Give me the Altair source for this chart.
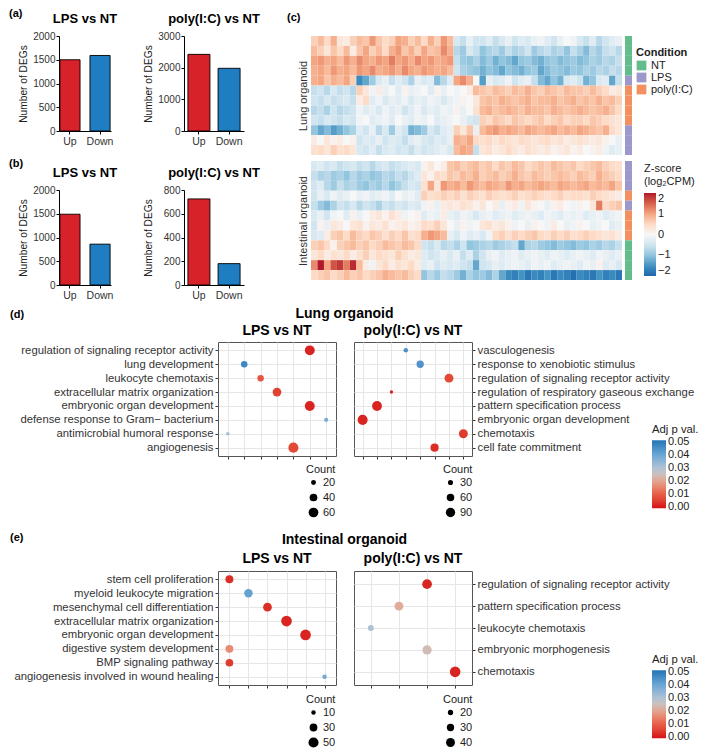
import altair as alt
import pandas as pd

FONT = "Liberation Sans"
TXT = "#333333"

# ---------------- (a)/(b) DEG counts ----------------
deg_dir = ["Up", "Down"]
a_lps_counts = [1500, 1590]
a_poly_counts = [2420, 1980]
b_lps_counts = [1490, 860]
b_poly_counts = [725, 180]
up_color = "#d7222a"
down_color = "#1f7dc1"

# ---------------- (c) heatmap (z-scores, 48 gene blocks per sample row) ----------------
lung_conditions = ["NT", "NT", "NT", "NT", "LPS", "poly(I:C)", "poly(I:C)", "poly(I:C)",
                   "poly(I:C)", "LPS", "LPS", "LPS"]
int_conditions = ["LPS", "LPS", "LPS", "poly(I:C)", "LPS", "poly(I:C)", "poly(I:C)",
                  "poly(I:C)", "NT", "NT", "NT", "NT"]

lung_z = [
    [0.6, 0.8, 0.5, 0.9, 0.3, 0.2, 0.6] + [0.8, 0.7, 1.1, 0.7, 0.5, 0.6, 1.0, 0.9, 0.6, 0.8, 0.5, 0.9, 0.6, 1.1, 0.8]
    + [-0.4, -0.6, -0.2, -0.5] + [-0.5, -0.3, -0.6, -0.4, -0.2, -0.5, -0.3, -0.4, -0.2, -0.1, -0.3, -0.5, -0.2, 0.0, -0.1, -0.4, -0.6, -0.3, -0.7, -0.5, -0.3, -0.2],
    [0.8, 0.6, 0.3, 0.7, 0.5, 0.8, 0.2] + [0.7, 1.0, 0.6, 0.8, 0.5, 0.9, 1.1, 0.7, 0.9, 0.6, 1.0, 0.7, 0.8, 1.2, 0.9]
    + [-0.7, -0.9, -0.4, -0.6] + [-1.0, -0.8, -0.7, -0.9, -0.6, -0.8, -0.7, -0.5, -0.9, -0.7, -0.6, -0.8, -0.7, -1.0, -0.6, -0.8, -1.1, -0.7, -0.9, -0.6, -0.5, -0.7],
    [1.0, 1.1, 0.9, 1.0, 0.8, 1.1, 0.9] + [1.2, 1.0, 0.9, 1.1, 1.0, 1.3, 1.0, 1.1, 0.9, 1.2, 1.0, 1.1, 0.9, 1.0, 1.1]
    + [-0.6, -0.9, -1.0, -0.8] + [-1.1, -0.9, -1.2, -1.0, -1.1, -1.3, -1.0, -0.9, -1.1, -1.2, -1.0, -0.9, -1.1, -1.0, -0.9, -1.1, -1.0, -0.8, -0.9, -0.7, -0.8, -0.6],
    [0.9, 1.0, 0.8, 1.1, 0.9, 1.0, 0.8] + [1.1, 1.0, 1.2, 0.9, 1.0, 1.1, 0.9, 1.2, 1.0, 0.9, 1.1, 1.0, 0.9, 1.0, 0.8]
    + [-0.5, -0.8, -0.9, -1.0] + [-1.2, -1.0, -1.1, -1.3, -1.0, -1.1, -1.2, -1.0, -0.9, -1.3, -1.1, -0.9, -1.0, -1.1, -0.9, -1.0, -0.8, -0.9, -0.7, -0.8, -0.6, -0.7],
    [0.9, 1.0, 0.7, 0.9, 0.8, 1.0, 0.6] + [-1.6, -1.3, -0.9, -0.4, -0.2, -0.6, -0.3, -0.5, -0.8, -0.2, -0.4, -0.3, -1.1, -0.7, -0.3]
    + [1.0, 1.2, 0.9, 0.0] + [-1.4, -0.2, -0.4, -0.3, -0.1, -0.5, -0.3, -0.2, -0.6, -1.1, -1.3, -1.0, -1.2, -0.4, -0.3, -0.5, -1.2, -1.0, -0.4, -0.3, -1.3, -0.6],
    [-0.6, -0.5, -0.7, -0.4, -0.6, -0.5, -0.7] + [0.6, 0.3, -0.1, 0.2, -0.2, 0.0, -0.3, 0.1, -0.2, -0.1, 0.0, -0.3, 0.1, -0.2, 0.0]
    + [-0.1, 0.0, 0.2, 0.8] + [0.7, 0.6, 0.8, 0.7, 0.6, 0.8, 0.7, 0.9, 0.7, 0.6, 0.8, 0.7, 0.6, 0.8, 0.7, 0.7, 0.6, 0.8, 0.6, 0.5, 0.2, 0.3],
    [-0.5, -0.6, -0.4, -0.6, -0.5, -0.4, -0.6] + [0.2, 0.5, -0.3, -0.1, -0.4, -0.2, -0.3, -0.1, -0.4, -0.2, -0.3, -0.1, -0.2, -0.4, -0.2]
    + [-0.1, 0.1, 0.0, 0.3] + [0.7, 0.8, 0.7, 0.9, 0.8, 0.7, 0.8, 0.9, 0.7, 0.8, 0.8, 0.9, 0.7, 0.8, 0.9, 0.7, 0.8, 0.7, 0.9, 0.7, 0.8, 0.6],
    [-0.7, -0.6, -0.8, -0.5, -0.7, -0.6, -0.5] + [-0.1, -0.3, -0.2, -0.4, -0.1, -0.3, -0.2, -0.5, -0.3, -0.1, -0.4, -0.2, -0.3, -0.1, -0.2]
    + [0.1, -0.2, 0.0, 0.4] + [0.8, 0.9, 0.7, 0.8, 0.9, 0.8, 0.7, 0.9, 0.8, 0.8, 0.7, 0.9, 0.8, 0.7, 0.8, 0.9, 0.8, 0.7, 0.8, 0.9, 0.7, 0.5],
    [-0.5, -0.6, -0.4, -0.5, -0.6, -0.4, -0.5] + [-0.1, 0.0, -0.3, -0.2, -0.1, -0.3, 0.0, -0.2, -0.3, -0.1, -0.2, 0.0, -0.3, -0.2, -0.1]
    + [0.0, -0.2, -0.4, -0.5] + [0.6, 0.5, 0.7, 0.6, 0.5, 0.7, 0.6, 0.5, 0.6, 0.7, 0.5, 0.6, 0.7, 0.5, 0.6, 0.6, 0.5, 0.7, 0.6, 0.5, 0.4, 0.3],
    [-1.0, -1.3, -1.1, -1.4, -1.2, -1.0, -0.8] + [-0.3, -0.5, -0.2, -0.7, -0.4, -0.9, -0.3, -0.5, -1.2, -1.1, -0.9, -0.4, -0.6, -0.3, -0.2]
    + [0.6, 0.3, 0.7, -0.2] + [0.8, 1.0, 1.1, 0.9, 1.0, 0.9, 0.8, 1.0, 0.9, 0.8, 0.9, 1.0, 0.8, 0.9, 0.8, 1.0, 0.9, 0.8, 0.7, 0.9, 0.5, 0.3],
    [0.2, 0.0, 0.3, 0.1, 0.2, 0.0, 0.1] + [-0.5, -0.3, -0.4, -0.2, -0.5, -0.3, -0.4, -0.6, -0.3, -0.2, -0.4, -0.5, -0.3, -0.4, -0.2]
    + [0.9, 0.8, 1.0, 0.5] + [0.4, 0.5, 0.3, 0.5, 0.4, 0.3, 0.5, 0.4, 0.3, 0.4, 0.5, 0.3, 0.4, 0.2, 0.3, 0.4, 0.3, 0.2, 0.3, 0.1, 0.0, -0.2],
    [0.4, 0.5, 0.3, 0.6, 0.4, 0.5, 0.3] + [-0.4, -0.5, -0.3, -0.6, -0.4, -0.3, -0.5, -0.4, -0.6, -0.3, -0.5, -0.4, -0.3, -0.2, -0.4]
    + [0.8, 1.0, 0.9, -0.6] + [0.3, 0.4, 0.2, 0.3, 0.5, 0.3, 0.2, 0.4, 0.3, 0.2, 0.3, 0.1, 0.2, 0.3, 0.1, 0.2, 0.0, 0.1, 0.2, -0.1, -0.3, -0.2],
]

int_z = [
    [-0.4, -0.3, -0.5, -0.4, -0.6, -0.5, -0.4, -0.6, -0.5, -0.7, -0.5, -0.4, -0.6, -0.5, -0.4, -0.3, -0.4] + [0.1, 0.3, 0.0, 0.2]
    + [0.7, 0.8, 0.6, 0.7, 0.8, 0.6, 0.7, 0.5, 0.7, 0.6, 0.8, 0.7, 0.5, 0.6, 0.7, 0.6, 0.8, 0.7, 0.6, 0.7, 0.5, 0.6, 0.7, 0.8, 0.6, 0.5, 0.4],
    [-0.6, -0.8, -0.7, -0.9, -0.8, -1.0, -0.7, -0.9, -0.8, -1.0, -0.9, -0.7, -0.8, -0.6, -0.7, -0.5, -0.3] + [0.3, 0.1, 0.5, 0.4]
    + [0.7, 0.6, 0.8, 0.7, 0.9, 0.6, 0.7, 0.8, 0.6, 0.7, 0.9, 0.7, 0.6, 0.8, 0.7, 0.6, 0.7, 0.8, 0.7, 0.6, 0.8, 0.7, 0.6, 0.9, 0.7, 0.6, 0.5],
    [-0.5, -0.3, -0.7, -0.9, -0.6, -0.8, -0.7, -0.9, -1.0, -0.8, -0.9, -0.7, -1.0, -0.8, -0.6, -0.4, -0.5] + [0.4, 1.0, 0.3, 1.1]
    + [0.9, 1.0, 0.8, 1.1, 0.9, 0.8, 1.0, 0.9, 0.8, 1.1, 0.9, 1.0, 0.8, 0.9, 1.0, 0.9, 0.8, 1.0, 0.9, 0.8, 0.9, 1.0, 0.8, 0.9, 0.8, 1.0, 0.7],
    [-0.5, -0.2, -0.4, -0.1, -0.3, -0.2, 0.0, -0.2, -0.1, -0.3, -0.2, -0.1, -0.3, 0.0, -0.2, -0.1, -0.3] + [0.6, 0.4, 0.5, 0.6]
    + [0.5, 0.6, 0.4, 0.6, 0.5, 0.4, 0.6, 0.5, 0.4, 0.5, 0.6, 0.4, 0.5, 0.6, 0.5, 0.4, 0.5, 0.6, 0.4, 0.5, 0.5, 0.4, 0.6, 0.5, 0.4, 0.3, 0.2],
    [-0.6, -0.9, -1.1, -0.8, -0.5, -0.6, -0.4, -0.7, -0.5, -0.6, -0.8, -0.5, -0.6, -0.4, -0.5, -0.3, -0.4] + [-0.1, 0.1, -0.2, 0.2]
    + [0.3, 0.2, 0.4, 0.3, 0.1, 0.3, 0.0, 0.2, -0.2, 0.1, 0.2, -0.1, 0.3, 0.1, 0.0, -0.2, 0.1, 0.2, 0.0, -0.1, 0.1, 0.0, 0.3, 1.3, 0.5, 0.6, 0.7],
    [-0.4, -0.2, -0.5, -0.1, 0.0, -0.3, 0.1, -0.2, 0.0, 0.2, 0.3, 0.1, 0.4, 0.2, -0.1, 0.0, 0.1] + [-0.3, -0.1, -0.2, 0.2]
    + [-0.2, -0.3, -0.1, -0.2, -0.4, -0.2, -0.1, -0.3, -0.2, -0.1, -0.3, -0.2, -0.1, -0.2, -0.3, -0.1, -0.2, -0.3, -0.1, -0.2, -0.1, -0.3, -0.2, -0.1, -0.3, -0.2, -0.1],
    [-0.5, 0.1, -0.2, 0.3, 0.2, 0.0, 0.3, 0.4, 0.1, 0.3, 0.2, 0.4, 0.1, 0.2, 0.3, 0.1, 0.2] + [0.5, 0.4, 0.6, 0.3]
    + [0.0, -0.2, 0.1, -0.1, 0.0, 0.3, 0.4, 0.2, 0.3, 0.1, -0.1, 0.0, -0.2, 0.1, 0.0, -0.1, 0.2, 0.0, -0.2, -0.1, 0.1, 0.0, -0.2, -0.1, 0.0, -0.3, -0.2],
    [-0.4, -0.3, 0.2, 0.6, 0.7, 0.5, 0.8, 0.6, 0.5, 0.7, 0.6, 0.4, 0.6, 0.5, 0.7, 0.4, 0.5] + [0.9, 1.1, 1.0, 0.8]
    + [-0.2, -0.4, -0.1, -0.3, -0.2, -0.4, -0.1, 0.5, 0.6, 0.4, 0.6, 0.5, 0.6, 0.7, 0.5, 0.4, 0.6, 0.5, 0.6, 0.4, 0.5, 0.6, 0.5, 0.4, 0.3, 0.4, 0.2],
    [0.6, 0.7, 0.5, 0.1, 0.6, 0.7, 0.8, 0.6, 0.7, 0.5, 0.6, 0.8, 0.7, 0.6, 0.8, 0.7, 0.5] + [-0.5, -0.6, -0.4, -0.7]
    + [-0.6, -0.8, -0.5, -1.0, -0.9, -0.8, -0.7, -0.9, -0.8, -0.7, -0.6, -1.3, -0.8, -0.7, -0.9, -1.0, -1.1, -0.9, -1.0, -1.1, -0.9, -1.0, -0.8, -0.9, -0.7, -0.8, -0.6],
    [0.3, 0.5, 0.2, 0.4, 0.3, 0.5, 0.2, 0.4, 0.6, 0.3, 0.5, 0.4, 0.3, 0.6, 0.4, 0.2, 0.3] + [-0.3, -0.5, -0.4, -0.2]
    + [-0.4, -0.2, -0.6, -0.3, -0.8, -0.5, -0.2, -0.1, -0.3, -0.2, -0.1, -0.3, -0.2, -0.1, -0.2, -0.3, -0.1, -0.2, -0.3, -0.2, -0.1, -0.2, -0.3, -0.1, -0.2, -0.3, -0.2],
    [1.2, 2.0, 1.0, 1.6, 1.8, 1.3, 1.9, 0.8, 0.2, -0.1, 0.3, 0.5, 0.2, 0.4, 0.3, 0.5, 0.2] + [-0.3, -0.2, -0.5, -0.3]
    + [-0.4, -0.3, -0.5, -0.6, -1.3, -0.5, -0.4, -0.2, -0.3, -0.2, -0.1, -0.2, -0.3, -0.1, -0.2, -0.1, -0.3, -0.2, -0.1, -0.2, -0.3, -0.1, -0.2, 0.1, -0.3, -0.2, -0.4],
    [0.5, 0.6, 0.7, 0.5, 0.6, 0.8, 0.6, 0.7, 0.5, 0.6, 0.7, 0.9, 0.8, 0.7, 0.8, 0.6, 0.5] + [-1.0, -0.7, -0.9, -0.6]
    + [-0.7, -0.9, -1.2, -0.8, -1.0, -0.9, -1.1, -0.8, -1.3, -1.6, -1.7, -1.5, -1.8, -1.6, -1.7, -1.5, -1.8, -1.6, -1.7, -1.9, -1.6, -1.7, -1.8, -1.5, -1.7, -1.6, -1.8],
]
for _r in lung_z + int_z:
    assert len(_r) == 48, len(_r)

condition_names = ["NT", "LPS", "poly(I:C)"]
condition_colors = ["#63bc8b", "#9d98cc", "#f2905f"]
z_domain = [-2, -1.5, -1, -0.5, 0, 0.5, 1, 1.5, 2]
z_range = ["#2166ac", "#4393c3", "#92c5de", "#d1e5f0", "#f7f7f7", "#fddbc7", "#f4a582", "#d6604d", "#b2182b"]

# ---------------- (d) lung GO enrichment ----------------
d_lps_terms = ["regulation of signaling receptor activity", "lung development", "leukocyte chemotaxis",
               "extracellular matrix organization", "embryonic organ development",
               "defense response to Gram\u2212 bacterium", "antimicrobial humoral response", "angiogenesis"]
d_lps_pos = [6, 2, 3, 4, 6, 7, 1, 5]
d_lps_count = [62, 30, 30, 50, 62, 16, 14, 64]
d_lps_padj = [0.001, 0.047, 0.008, 0.005, 0.001, 0.038, 0.031, 0.006]

d_poly_terms = ["vasculogenesis", "response to xenobiotic stimulus", "regulation of signaling receptor activity",
                "regulation of respiratory gaseous exchange", "pattern specification process",
                "embryonic organ development", "chemotaxis", "cell fate commitment"]
d_poly_pos = [4, 5, 7, 3, 2, 1, 8, 6]
d_poly_count = [24, 57, 82, 16, 99, 103, 82, 70]
d_poly_padj = [0.045, 0.044, 0.006, 0.001, 0.001, 0.001, 0.004, 0.002]

# ---------------- (e) intestinal GO enrichment ----------------
e_lps_terms = ["stem cell proliferation", "myeloid leukocyte migration", "mesenchymal cell differentiation",
               "extracellular matrix organization", "embryonic organ development",
               "digestive system development", "BMP signaling pathway", "angiogenesis involved in wound healing"]
e_lps_pos = [1, 2, 3, 4, 5, 1, 1, 6]
e_lps_count = [31, 35, 37, 56, 56, 31, 29, 10]
e_lps_padj = [0.002, 0.041, 0.002, 0.001, 0.001, 0.016, 0.004, 0.039]

e_poly_terms = ["regulation of signaling receptor activity", "pattern specification process",
                "leukocyte chemotaxis", "embryonic morphogenesis", "chemotaxis"]
e_poly_pos = [3, 2, 1, 3, 4]
e_poly_count = [46, 40, 23, 43, 53]
e_poly_padj = [0.001, 0.021, 0.030, 0.024, 0.001]

# colour bar for adjusted p (tiny end caps keep the 0.00 / 0.05 labels centred on the bar)
padj_domain = [-0.0012, 0, 0.01, 0.02, 0.025, 0.03, 0.04, 0.05, 0.0512]
padj_range = ["#d7191c", "#d7191c", "#e8604a", "#e3a592", "#cbc1be", "#aec2d4", "#6aa7d5", "#2a79b8", "#2a79b8"]
padj_ticks = [0, 0.01, 0.02, 0.03, 0.04, 0.05]

# ================= layout constants =================
BAR_H = 95
HEAT_W = 311
HEAT_H = 119
DOT_W = 118
D_H = 114
E_H = 114
DOT_FONT = 11.3


def label_layer(text, dx, dy, size=11, align="left"):
    """Panel letter / panel heading drawn as text at a fixed offset from the plot corner."""
    return alt.Chart(pd.DataFrame({"t": [text]})).mark_text(
        align=align, baseline="middle", font=FONT, fontSize=size, fontWeight="bold", color="black"
    ).encode(text="t:N", x=alt.value(dx), y=alt.value(dy))


def spacer():
    return alt.Chart(pd.DataFrame({"t": [""]})).mark_text().encode(
        text="t:N", x=alt.value(0), y=alt.value(0)).properties(width=1, height=1)


def bar_panel(counts, title, ymax, ticks, width, p_in, p_out, letter=None, letter_dy=-22):
    df = pd.DataFrame({"direction": deg_dir, "DEGs": counts})
    bars = alt.Chart(df).mark_bar(stroke="black", strokeWidth=0.9).encode(
        x=alt.X("direction:N", sort=deg_dir,
                scale=alt.Scale(domain=deg_dir, paddingInner=p_in, paddingOuter=p_out),
                axis=alt.Axis(title=None, labelAngle=0, labelFontSize=10.5, labelColor=TXT,
                              tickSize=3, tickColor="black", domainColor="black", labelPadding=2)),
        y=alt.Y("DEGs:Q", scale=alt.Scale(domain=[0, ymax], nice=False),
                axis=alt.Axis(title="Number of DEGs", values=ticks, format="d", grid=False, labelFontSize=10,
                              labelColor=TXT, tickSize=3, tickColor="black", domainColor="black",
                              labelPadding=1, titleFontSize=10.2, titleFontWeight="normal",
                              titleColor="#222222", titlePadding=4, minExtent=27)),
        fill=alt.condition(alt.datum.direction == "Up", alt.value(up_color), alt.value(down_color)),
    )
    layers = [bars, label_layer(title, width / 2, -17, size=13, align="center")]
    if letter:
        layers.append(label_layer(letter, -50, letter_dy))
    return alt.layer(*layers).properties(width=width, height=BAR_H)


def heat_panel(rows, title, letter=None):
    recs = [{"gene": j, "sample": i, "z": v} for i, row in enumerate(rows) for j, v in enumerate(row)]
    heat = alt.Chart(pd.DataFrame(recs)).mark_rect().encode(
        x=alt.X("gene:O", axis=None, scale=alt.Scale(paddingInner=0, paddingOuter=0)),
        y=alt.Y("sample:O", scale=alt.Scale(paddingInner=0, paddingOuter=0),
                axis=alt.Axis(title=title, labels=False, ticks=False, domain=False, titleFontSize=11,
                              titleFontWeight="normal", titleColor=TXT, titlePadding=3)),
        color=alt.Color("z:Q", scale=alt.Scale(domain=z_domain, range=z_range, clamp=True), legend=None),
    )
    layers = [heat]
    if letter:
        layers.append(label_layer(letter, -24, -18))
    return alt.layer(*layers).properties(width=HEAT_W, height=HEAT_H)


def cond_panel(conds, legend, z_rows=None, z_legend=None):
    df = pd.DataFrame({"sample": list(range(len(conds))), "Condition": conds})
    bar = alt.Chart(df).mark_rect().encode(
        y=alt.Y("sample:O", axis=None, scale=alt.Scale(paddingInner=0, paddingOuter=0)),
        color=alt.Color("Condition:N", scale=alt.Scale(domain=condition_names, range=condition_colors),
                        legend=legend),
    )
    if z_rows is None:
        return bar.properties(width=7, height=HEAT_H)
    # invisible layer carrying the z-score colour scale so its legend sits beside the condition bar
    recs = [{"sample": i, "z": v} for i, row in enumerate(z_rows) for v in row]
    ghost = alt.Chart(pd.DataFrame(recs)).mark_rect(opacity=0).encode(
        y=alt.Y("sample:O", axis=None, scale=alt.Scale(paddingInner=0, paddingOuter=0)),
        color=alt.Color("z:Q", scale=alt.Scale(domain=z_domain, range=z_range, clamp=True), legend=z_legend),
    )
    return alt.layer(bar, ghost).resolve_scale(color="independent").properties(width=7, height=HEAT_H)


def dot_panel(terms, pos, counts, padj, n_pos, height, size_dom, size_rng, size_vals, title, orient,
              size_xy, color_y=None, letter=None, letter_dy=-27, title_dy=-11):
    df = pd.DataFrame({"term": terms, "pos": pos, "Count": counts, "padj": padj})
    size_legend = alt.Legend(title="Count", orient="none", legendX=size_xy[0], legendY=size_xy[1],
                             values=size_vals, symbolType="circle", symbolFillColor="black",
                             symbolStrokeWidth=0, symbolOpacity=1, titleFontSize=11,
                             titleFontWeight="normal", titleColor="#222222", labelFontSize=11,
                             labelColor="#222222", rowPadding=3, symbolOffset=2, titlePadding=2,
                             padding=0, direction="vertical")
    if color_y is not None:
        color_legend = alt.Legend(title="Adj p val.", orient="none", legendX=298, legendY=color_y,
                                  values=padj_ticks, format=".2f",
                                  gradientLength=68, gradientThickness=14, gradientStrokeWidth=0,
                                  titleFontSize=11.3, titleFontWeight="normal", titleColor="#222222",
                                  labelFontSize=11, labelColor="#222222", labelOverlap=False,
                                  titlePadding=5, padding=0, direction="vertical")
    else:
        color_legend = None
    pts = alt.Chart(df).mark_circle(opacity=1).encode(
        x=alt.X("pos:O", scale=alt.Scale(domain=list(range(1, n_pos + 1)), padding=0.6),
                axis=alt.Axis(labels=False, title=None, ticks=True, tickSize=3, tickColor="#333333",
                              domain=False, grid=True, gridColor="#e6e6e6", gridWidth=1)),
        y=alt.Y("term:N", sort=terms, scale=alt.Scale(domain=terms, padding=0.6),
                axis=alt.Axis(title=None, orient=orient, labelFontSize=DOT_FONT, labelColor=TXT,
                              tickSize=3, tickColor="#333333", labelPadding=2, domain=False,
                              grid=True, gridColor="#e6e6e6", gridWidth=1, labelLimit=400)),
        size=alt.Size("Count:Q", scale=alt.Scale(type="linear", domain=size_dom, range=size_rng, zero=False),
                      legend=size_legend),
        color=alt.Color("padj:Q", scale=alt.Scale(domain=padj_domain, range=padj_range, clamp=True),
                        legend=color_legend),
    )
    layers = [pts, label_layer(title, DOT_W / 2, title_dy, size=14, align="center")]
    if letter:
        layers.append(label_layer(letter, -208, letter_dy))
    return alt.layer(*layers).properties(
        width=DOT_W, height=height, view=alt.ViewBackground(stroke="#555555", strokeWidth=1))


IND = dict(color="independent", size="independent")

# ---- (a) and (b)
a1 = bar_panel(a_lps_counts, "LPS vs NT", 2000, [0, 500, 1000, 1500, 2000], 52, 0.33, 0.03, "(a)", -22)
a2 = bar_panel(a_poly_counts, "poly(I:C) vs NT", 3000, [0, 1000, 2000, 3000], 60, 0.27, 0.13)
b1 = bar_panel(b_lps_counts, "LPS vs NT", 2000, [0, 500, 1000, 1500, 2000], 52, 0.33, 0.03, "(b)", -26)
b2 = bar_panel(b_poly_counts, "poly(I:C) vs NT", 800, [0, 200, 400, 600, 800], 60, 0.27, 0.13)
a_row = alt.hconcat(a1, a2, spacing=25)
b_row = alt.hconcat(b1, b2, spacing=25)
ab_block = alt.vconcat(a_row, b_row, spacing=11)

# ---- (c)
cond_legend = alt.Legend(title="Condition", orient="none", legendX=11, legendY=11, symbolType="square",
                         symbolSize=95, symbolStrokeWidth=0, titleFontSize=11, titleFontWeight="bold",
                         titleColor="#222222", labelFontSize=11, labelColor="#222222", rowPadding=0,
                         titlePadding=2, padding=0)
z_legend = alt.Legend(title=["Z-score", "(log\u2082CPM)"], orient="none", legendX=19, legendY=2,
                      gradientLength=83, gradientThickness=12, gradientStrokeWidth=0,
                      values=[-2, -1, 0, 1, 2], titleFontSize=11, titleFontWeight="normal",
                      titleColor="#222222", labelFontSize=11, labelColor="#222222", titlePadding=6,
                      labelOverlap=False, padding=0, direction="vertical")
lung_row = alt.hconcat(heat_panel(lung_z, "Lung organoid", "(c)"),
                       cond_panel(lung_conditions, cond_legend), spacing=2).resolve_scale(**IND)
int_row = alt.hconcat(heat_panel(int_z, "Intestinal organoid"),
                      cond_panel(int_conditions, None, int_z, z_legend), spacing=2).resolve_scale(**IND)
c_block = alt.vconcat(lung_row, int_row, spacing=6).resolve_scale(**IND)

inner_top = alt.hconcat(ab_block, c_block, spacing=27).resolve_scale(**IND)
top_row = alt.hconcat(spacer(), inner_top, spacing=0).resolve_scale(**IND)

# ---- (d)
d_left = dot_panel(d_lps_terms, d_lps_pos, d_lps_count, d_lps_padj, 7, D_H, [20, 60], [24, 95],
                   [20, 40, 60], "LPS vs NT", "left", (88, D_H + 8), None, "(d)", -27, -11)
d_right = dot_panel(d_poly_terms, d_poly_pos, d_poly_count, d_poly_padj, 8, D_H, [30, 90], [26, 88],
                    [30, 60, 90], "poly(I:C) vs NT", "right", (89, D_H + 8), 82, title_dy=-11)
d_inner = alt.hconcat(d_left, d_right, spacing=16,
                      title=alt.TitleParams("Lung organoid", anchor="middle", frame="bounds", fontSize=14,
                                            fontWeight="bold", dx=-10, dy=12, offset=0)).resolve_scale(**IND)

# ---- (e)
e_left = dot_panel(e_lps_terms, e_lps_pos, e_lps_count, e_lps_padj, 6, E_H, [10, 50], [20, 102],
                   [10, 30, 50], "LPS vs NT", "left", (88, E_H + 9), None, "(e)", -33, -12)
e_right = dot_panel(e_poly_terms, e_poly_pos, e_poly_count, e_poly_padj, 4, E_H, [20, 40], [28, 79],
                    [20, 30, 40], "poly(I:C) vs NT", "right", (89, E_H + 9), 83, title_dy=-12)
e_inner = alt.hconcat(e_left, e_right, spacing=16,
                      title=alt.TitleParams("Intestinal organoid", anchor="middle", frame="bounds", fontSize=14,
                                            fontWeight="bold", dx=-10, dy=15, offset=0)).resolve_scale(**IND)

lower_inner = alt.vconcat(d_inner, e_inner, spacing=12).resolve_scale(**IND)
lower = alt.hconcat(spacer(), lower_inner, spacing=0).resolve_scale(**IND)

chart = alt.vconcat(top_row, lower, spacing=5).resolve_scale(**IND).properties(padding=0)
chart = chart.configure(font=FONT).configure_view(stroke=None).configure_axis(
    labelFont=FONT, titleFont=FONT).configure_legend(labelFont=FONT, titleFont=FONT,
                                                     symbolBaseFillColor="black").configure_title(
    font=FONT, color="black")

chart.save("out.html", embed_options={"renderer": "svg", "actions": False})
